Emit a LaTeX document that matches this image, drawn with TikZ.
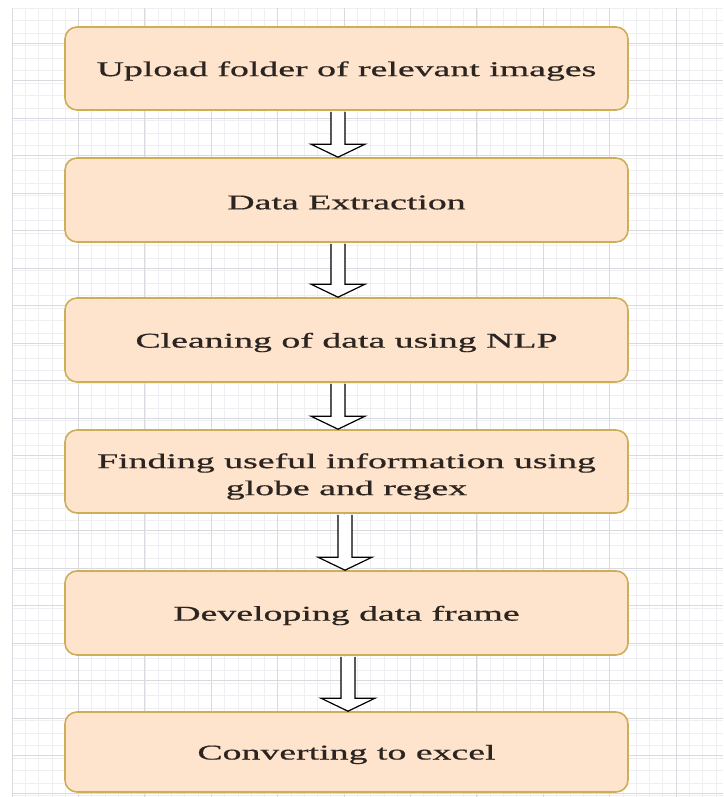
\documentclass[tikz,border=0pt]{standalone}
\usepackage{fontspec}
\usepackage{graphicx}
\setmainfont{Liberation Serif}
\newfontfamily\boxfont{Liberation Serif}[RawFeature={embolden=0.5}]
\usetikzlibrary{calc}
\definecolor{boxfill}{HTML}{FEE4CD}
\definecolor{boxline}{HTML}{CFAE58}
\definecolor{gridmaj}{HTML}{D9D9E0}
\definecolor{gridmin}{HTML}{EFEFF3}
\definecolor{txt}{HTML}{2B2420}
\newcommand\sx[2][-2.5pt]{\raisebox{#1}[\height][\depth]{\scalebox{1.8}[1]{#2}}}
\newcommand\myfatarrow[3]{%
  \draw[fatarrow] let \p1=($(#1.south)+(#3,0)$), \p2=($(#2.north)+(#3,0)$) in
    (\x1-7pt,\y1-1pt) -- (\x1-7pt,\y2+13pt) -- (\x1-27pt,\y2+13pt) -- (\x1,\y2)
    -- (\x1+27pt,\y2+13pt) -- (\x1+7pt,\y2+13pt) -- (\x1+7pt,\y1-1pt);}
\tikzset{
  stepbox/.style={draw=boxline, fill=boxfill, line width=1.6pt, rounded corners=12pt,
    minimum width=563, inner sep=0pt, text=txt, align=center,
    font=\boxfont\fontsize{21}{27}\selectfont},
  fatarrow/.style={draw=black, fill=white, line width=1.2pt, line join=miter},
  gmaj/.style={draw=gridmaj, line width=0.8pt},
  gmin/.style={draw=gridmin, line width=0.5pt}
}
\begin{document}
\begin{tikzpicture}[x=1pt,y=-1pt]
\useasboundingbox (0,0) rectangle (723,797);
\fill[white] (0,0) rectangle (723,797);
% grid
\foreach \i in {0,...,53} \draw[gmin] ({12+13.28*\i},8) -- ({12+13.28*\i},797);
\foreach \j in {0,...,63} \draw[gmin] (12,{8+12.5*\j}) -- (723,{8+12.5*\j});
\foreach \i in {0,...,10} \draw[gmaj] ({12+66.4*\i},8) -- ({12+66.4*\i},797);
\foreach \j in {1,...,21} \draw[gmaj] (12,{5.5+37.5*\j}) -- (723,{5.5+37.5*\j});
% boxes
\node[stepbox, minimum height=83] (b1) at (346.5,68.5) {\sx{Upload folder of relevant images}};
\node[stepbox, minimum height=84] (b2) at (346.5,200) {\sx{Data Extraction}};
\node[stepbox, minimum height=84] (b3) at (346.5,340) {\sx{Cleaning of data using NLP}};
\node[stepbox, minimum height=83] (b4) at (346.5,471.5) {\sx[-5pt]{Finding useful information using}\\\sx[-5pt]{globe and regex}};
\node[stepbox, minimum height=84] (b5) at (346.5,613) {\sx{Developing data frame}};
\node[stepbox, minimum height=80] (b6) at (346.5,752) {\sx{Converting to excel}};
% arrows
\myfatarrow{b1}{b2}{-8.5}
\myfatarrow{b2}{b3}{-8.5}
\myfatarrow{b3}{b4}{-8.5}
\myfatarrow{b4}{b5}{-1.5}
\myfatarrow{b5}{b6}{1.5}
\end{tikzpicture}
\end{document}
